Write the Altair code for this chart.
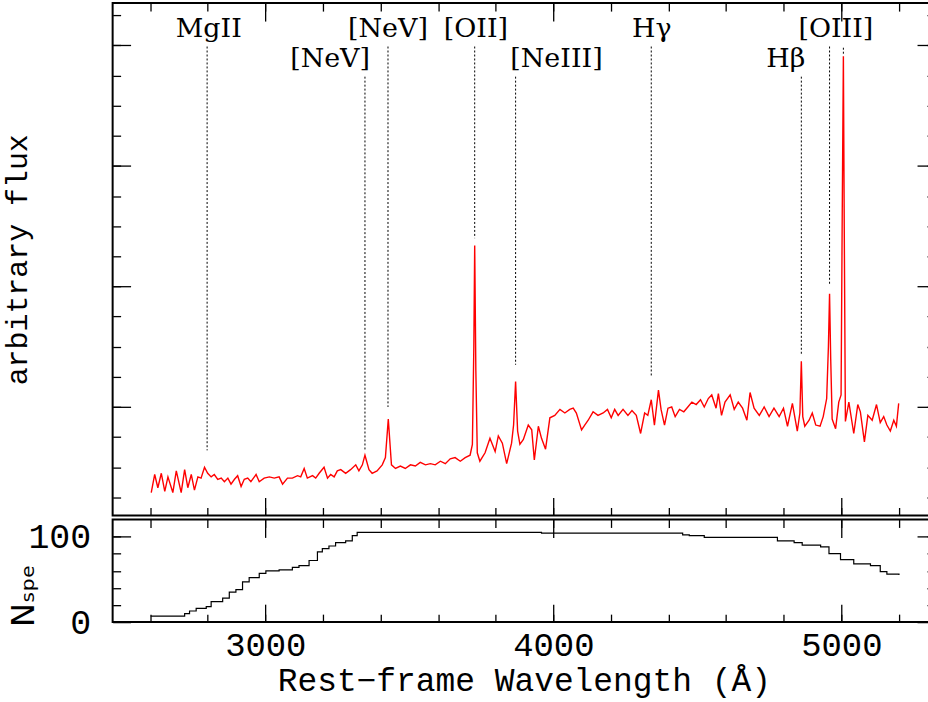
import altair as alt
import pandas as pd

# ---------------- data ----------------
wavelength = [
    2604, 2616, 2627, 2639, 2651, 2662, 2679, 2691, 2708, 2720,
    2731, 2743, 2754, 2766, 2777, 2789, 2800, 2812, 2823, 2835,
    2847, 2858, 2870, 2881, 2893, 2904, 2916, 2927, 2939, 2950,
    2968, 2979, 2996, 3014, 3031, 3048, 3060, 3077, 3094, 3112,
    3123, 3135, 3146, 3164, 3175, 3187, 3204, 3216, 3227, 3239,
    3250, 3262, 3279, 3296, 3314, 3325, 3337, 3346, 3360, 3371,
    3388, 3406, 3417, 3427, 3438, 3452, 3469, 3486, 3504, 3521,
    3538, 3556, 3573, 3590, 3608, 3625, 3642, 3659, 3677, 3694,
    3711, 3719, 3724, 3727, 3731, 3736, 3745, 3763, 3780, 3798,
    3809, 3823, 3838, 3855, 3862, 3869, 3876, 3884, 3896, 3913,
    3925, 3934, 3948, 3959, 3973, 3988, 4005, 4023, 4040, 4057,
    4069, 4080, 4098, 4109, 4121, 4138, 4155, 4173, 4188, 4201,
    4213, 4225, 4242, 4259, 4273, 4288, 4303, 4317, 4328, 4340,
    4351, 4365, 4374, 4386, 4398, 4411, 4423, 4438, 4453, 4467,
    4481, 4496, 4511, 4524, 4538, 4550, 4565, 4573, 4584, 4596,
    4614, 4628, 4642, 4657, 4672, 4683, 4697, 4715, 4732, 4749,
    4766, 4784, 4799, 4813, 4830, 4847, 4856, 4861, 4866, 4873,
    4888, 4899, 4911, 4926, 4937, 4949, 4955, 4959, 4963, 4968,
    4980, 4991, 4999, 5003, 5007, 5010, 5014, 5026, 5043, 5057,
    5066, 5080, 5092, 5107, 5122, 5135, 5147, 5158, 5170, 5182,
    5191, 5199,
]
flux = [
    0.29, 0.44, 0.33, 0.45, 0.30, 0.42, 0.29, 0.47, 0.29, 0.48,
    0.33, 0.44, 0.31, 0.42, 0.41, 0.50, 0.45, 0.42, 0.44, 0.40,
    0.41, 0.38, 0.41, 0.36, 0.40, 0.43, 0.34, 0.40, 0.41, 0.38,
    0.44, 0.38, 0.41, 0.42, 0.41, 0.42, 0.36, 0.41, 0.41, 0.43,
    0.42, 0.49, 0.41, 0.43, 0.41, 0.45, 0.50, 0.41, 0.44, 0.42,
    0.47, 0.48, 0.45, 0.48, 0.52, 0.47, 0.52, 0.60, 0.48, 0.45,
    0.47, 0.52, 0.58, 0.90, 0.52, 0.49, 0.51, 0.49, 0.52, 0.51,
    0.54, 0.52, 0.53, 0.52, 0.55, 0.53, 0.57, 0.58, 0.55, 0.58,
    0.60, 0.69, 1.50, 2.34, 1.30, 0.62, 0.55, 0.62, 0.74, 0.63,
    0.76, 0.70, 0.53, 0.70, 0.85, 1.21, 0.80, 0.69, 0.73, 0.85,
    0.81, 0.56, 0.84, 0.74, 0.65, 0.91, 0.93, 0.98, 0.95, 0.98,
    0.99, 0.95, 0.81, 0.85, 0.89, 0.96, 0.93, 0.95, 0.98, 0.91,
    0.98, 0.93, 0.98, 0.93, 0.97, 0.93, 0.78, 0.95, 0.93, 1.06,
    0.85, 1.14, 0.98, 0.85, 0.99, 1.00, 0.92, 0.98, 0.96, 1.00,
    1.04, 1.02, 1.06, 1.00, 1.07, 1.10, 0.99, 1.11, 0.93, 1.04,
    1.10, 0.98, 1.04, 0.99, 0.89, 1.12, 0.99, 0.93, 1.00, 0.92,
    0.99, 0.92, 0.99, 0.84, 1.03, 0.80, 0.95, 1.38, 0.92, 0.84,
    0.89, 0.95, 0.85, 0.84, 0.92, 1.07, 1.50, 1.94, 1.40, 0.90,
    0.82, 1.04, 1.10, 2.60, 3.91, 2.50, 0.88, 1.04, 0.78, 1.02,
    0.96, 0.71, 0.93, 0.89, 1.02, 0.87, 0.92, 0.85, 0.80, 0.89,
    0.84, 1.03,
]

nspe_wave = [2602, 2720, 2737, 2760, 2795, 2812, 2852, 2875, 2898, 2921,
             2944, 2979, 3002, 3048, 3094, 3117, 3152, 3181, 3198, 3221,
             3244, 3279, 3302, 3319, 3959, 4449, 4472, 4524, 4778, 4836,
             4864, 4928, 4957, 4997, 5043, 5101, 5135, 5158, 5200]
nspe_count = [7, 10, 13, 16, 18, 24, 28, 35, 38, 47,
              52, 57, 60, 61, 64, 66, 72, 82, 86, 89,
              93, 95, 101, 105, 104, 102, 101, 99, 95, 93,
              90, 88, 80, 73, 68, 66, 59, 56, 55]

# emission-line markers (wavelength, dotted segment top / bottom in flux units)
line_wave = [2798, 3346, 3426, 3727, 3869, 4340, 4861, 4959, 5007]
line_top = [3.99, 3.74, 3.99, 3.99, 3.74, 3.99, 3.74, 3.99, 3.98]
line_bottom = [0.64, 0.64, 1.00, 2.40, 1.35, 1.25, 1.44, 2.01, 3.93]

# labels, upper row and lower row
label_upper = ["MgII", "[NeV]", "[OII]", "Hγ", "[OIII]"]
label_upper_wave = [2804, 3426, 3731, 4342, 4981]
label_upper_level = [4.07, 4.07, 4.07, 4.07, 4.07]
label_lower = ["[NeV]", "[NeIII]", "Hβ"]
label_lower_wave = [3225, 4011, 4807]
label_lower_level = [3.82, 3.82, 3.82]

x_major = [3000, 4000, 5000]
x_minor = [2600, 2800, 3000, 3200, 3400, 3600, 3800, 4000, 4200, 4400,
           4600, 4800, 5000, 5200]
flux_major = [1, 2, 3, 4]
flux_minor = [0.25, 0.5, 0.75, 1, 1.25, 1.5, 1.75, 2, 2.25, 2.5, 2.75,
              3, 3.25, 3.5, 3.75, 4, 4.25]
n_major = [0, 100]
n_minor = [20, 40, 60, 80, 100]

# ---------------- frames ----------------
spec_df = pd.DataFrame({"wave": wavelength, "flux": flux})
nspe_df = pd.DataFrame({"wave": nspe_wave, "n": nspe_count})
lines_df = pd.DataFrame({"wave": line_wave, "top": line_top, "bottom": line_bottom})
up_df = pd.DataFrame({"wave": label_upper_wave, "level": label_upper_level, "txt": label_upper})
lo_df = pd.DataFrame({"wave": label_lower_wave, "level": label_lower_level, "txt": label_lower})

W = 825
H_TOP = 514
H_BOT = 103
xscale = alt.Scale(domain=[2470, 5325], nice=False, zero=False)
yscale_top = alt.Scale(domain=[0.1, 4.35], nice=False, zero=False)
yscale_bot = alt.Scale(domain=[0, 120], nice=False, zero=False)

MONO = "Liberation Mono"


def tick_axis(orient, values, size, **kw):
    opts = dict(orient=orient, values=values, tickSize=size, offset=-size,
                domain=False, labels=False, grid=False, title=None,
                tickColor="black", tickWidth=1.3)
    opts.update(kw)
    return alt.Axis(**opts)


# ---------------- top panel ----------------
spectrum = alt.Chart(spec_df).mark_line(color="#ff0000", strokeWidth=1.4).encode(
    x=alt.X("wave:Q", scale=xscale, axis=tick_axis("bottom", x_major, 18)),
    y=alt.Y("flux:Q", scale=yscale_top,
            axis=tick_axis("left", flux_major, 18, title="arbitrary flux",
                           titleFont=MONO, titleFontSize=30, titleFontWeight="normal",
                           titleColor="black", titlePadding=80)),
)
markers = alt.Chart(lines_df).mark_rule(color="black", strokeWidth=1, strokeDash=[2, 2]).encode(
    x=alt.X("wave:Q", scale=xscale, axis=tick_axis("bottom", x_minor, 8)),
    y=alt.Y("top:Q", scale=yscale_top, axis=tick_axis("left", flux_minor, 8)),
    y2="bottom:Q",
)
labels_up = alt.Chart(up_df).mark_text(font="DejaVu Serif", fontSize=27, color="black",
                                       align="center", baseline="alphabetic").encode(
    x=alt.X("wave:Q", scale=xscale, axis=tick_axis("top", x_major, 18)),
    y=alt.Y("level:Q", scale=yscale_top, axis=tick_axis("right", flux_major, 18)),
    text="txt:N",
)
labels_lo = alt.Chart(lo_df).mark_text(font="DejaVu Serif", fontSize=27, color="black",
                                       align="center", baseline="alphabetic").encode(
    x=alt.X("wave:Q", scale=xscale, axis=tick_axis("top", x_minor, 8)),
    y=alt.Y("level:Q", scale=yscale_top, axis=tick_axis("right", flux_minor, 8)),
    text="txt:N",
)
top = alt.layer(spectrum, markers, labels_up, labels_lo).resolve_axis(
    x="independent", y="independent").properties(width=W, height=H_TOP)

# ---------------- bottom panel ----------------
nline = alt.Chart(nspe_df).mark_line(color="black", strokeWidth=1.2, interpolate="step-after").encode(
    x=alt.X("wave:Q", scale=xscale,
            axis=tick_axis("bottom", x_major, 18, labels=True, format="d",
                           labelFont=MONO, labelFontSize=34, labelColor="black",
                           labelPadding=6, labelFlush=False, labelOverlap=False,
                           title="Rest−frame Wavelength (Å)", titleFont=MONO,
                           titleFontSize=33, titleFontWeight="normal",
                           titleColor="black", titlePadding=3)),
    y=alt.Y("n:Q", scale=yscale_bot,
            axis=tick_axis("left", n_major, 18, labels=True, format="d",
                           labelFont=MONO, labelFontSize=35, labelColor="black",
                           labelPadding=22, labelFlush=False, labelOverlap=False,
                           labelBaseline="middle",
                           title="Nₛₚₑ", titleFont="DejaVu Sans", titleFontSize=32,
                           titleFontWeight="normal", titleColor="black",
                           titlePadding=-13, titleY=76)),
)
n2 = alt.Chart(nspe_df).mark_line(strokeOpacity=0).encode(
    x=alt.X("wave:Q", scale=xscale, axis=tick_axis("bottom", x_minor, 8)),
    y=alt.Y("n:Q", scale=yscale_bot, axis=tick_axis("left", n_minor, 8)),
)
n3 = alt.Chart(nspe_df).mark_line(strokeOpacity=0).encode(
    x=alt.X("wave:Q", scale=xscale, axis=tick_axis("top", x_major, 18)),
    y=alt.Y("n:Q", scale=yscale_bot, axis=tick_axis("right", n_major, 18)),
)
n4 = alt.Chart(nspe_df).mark_line(strokeOpacity=0).encode(
    x=alt.X("wave:Q", scale=xscale, axis=tick_axis("top", x_minor, 8)),
    y=alt.Y("n:Q", scale=yscale_bot, axis=tick_axis("right", n_minor, 8)),
)
bottom = alt.layer(nline, n2, n3, n4).resolve_axis(
    x="independent", y="independent").properties(width=W, height=H_BOT)

chart = alt.vconcat(top, bottom, spacing=0).properties(
    padding={"left": 1, "top": 0, "right": -9, "bottom": 0},
    background="white",
).configure_view(stroke="black", strokeWidth=2)

chart.save("out.html", embed_options={"renderer": "svg", "actions": False})
